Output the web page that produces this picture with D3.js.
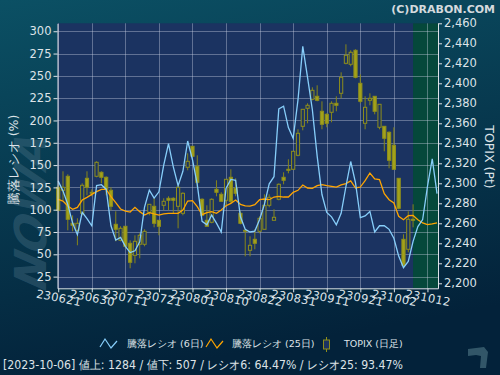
<!DOCTYPE html>
<html>
<head>
<meta charset="utf-8">
<script src="https://cdn.jsdelivr.net/npm/d3@7"></script>
<style>
  body { margin: 0; background: #04263a; }
  svg { display: block; }
  text { font-family: "DejaVu Sans", sans-serif; }
</style>
</head>
<body>
<svg id="chart" width="500" height="375"></svg>
<script>
// trading days (yymmdd), ratio lines run a few days past the last candle
var dates = ["230621","230622","230623","230626","230627","230628","230629","230630",
  "230703","230704","230705","230706","230707","230710","230711","230712","230713","230714",
  "230718","230719","230720","230721","230724","230725","230726","230727","230728","230731",
  "230801","230802","230803","230804","230807","230808","230809","230810","230814","230815",
  "230816","230817","230818","230821","230822","230823","230824","230825","230828","230829",
  "230830","230831","230901","230904","230905","230906","230907","230908","230911","230912",
  "230913","230914","230915","230919","230920","230921","230922","230925","230926","230927",
  "230928","230929","231002","231003","231004","231005","231006","231010","231011","231012",
  "231013","231016"];

// 騰落レシオ 6日 / 25日 (%)
var ratio6 = [132,121,106,85,72,97,90,82,127,128,123,82,66,69,59,52,54,64,103,122,
  113,120,150,174,148,127,143,177,156,128,87,83,94,85,75,124,134,133,92,78,
  75,76,89,106,129,137,213,216,192,180,223,283,248,212,160,117,97,92,83,96,
  126,154,130,91,93,98,75,82,82,78,68,48,35,42,64.47,81,89,126,157,118];
var ratio25 = [111.6,109.7,104,100.4,102.6,110.8,113.8,117.2,120.2,122.8,122.8,114.6,107.9,100.8,98.5,97.4,102.6,97.8,94,96.7,
  95.2,94,95.2,95.9,95.9,95.9,99.6,109.7,110.1,103.4,94.4,96.6,97.8,95.9,99.6,104.5,107.1,110.8,106,104.3,
  104.1,105.6,111.2,112,111.2,114.2,115,114.2,114.2,119.5,121.7,127.7,124.3,123.9,126.9,128.1,126.9,126.2,125.4,127.7,
  129.2,132.2,124.3,125.4,132.5,141.1,134.4,133.7,118,111.2,107.5,92.6,88.8,93.3,93.47,88.8,85.1,83.2,84,85.1];

// TOPIX daily candles (Pt)
var topixOpen  = [2296,2293,2307,2260,2253,2270,2305,2291,2307,2311,2306,2293,2259,2243,2257,2240,2228,2239,2239,2271,
  2277,2263,2278,2285,2285,2277,2270,2316,2337,2317,2284,2263,2261,2294,2289,2283,2306,2295,2270,2253,
  2233,2244,2252,2254,2278,2263,2284,2306,2314,2314,2328,2357,2375,2384,2387,2372,2369,2371,2380,2390,
  2420,2419,2433,2400,2360,2383,2387,2356,2357,2351,2338,2305,2244,2234,2264];
var topixHigh  = [2298,2312,2309,2268,2265,2300,2312,2294,2322,2312,2307,2296,2272,2257,2257,2243,2248,2250,2254,2279,
  2285,2263,2285,2287,2286,2298,2291,2330,2337,2328,2285,2278,2285,2303,2291,2304,2314,2305,2272,2253,
  2247,2254,2267,2289,2289,2274,2300,2311,2324,2332,2354,2374,2380,2396,2398,2382,2370,2382,2387,2411,
  2439,2433,2434,2409,2387,2390,2387,2379,2357,2352,2356,2305,2249,2272,2279];
var topixLow   = [2272,2283,2253,2252,2238,2268,2288,2287,2306,2300,2288,2273,2242,2242,2235,2215,2220,2225,2237,2268,
  2256,2248,2273,2273,2270,2255,2268,2313,2327,2296,2267,2257,2260,2287,2282,2277,2280,2287,2259,2227,
  2227,2234,2250,2254,2276,2263,2283,2299,2310,2314,2327,2353,2360,2383,2382,2354,2356,2361,2372,2385,
  2419,2417,2405,2380,2354,2378,2369,2354,2332,2315,2314,2274,2217,2231,2256];
var topixClose = [2273,2296,2264,2258,2260,2298,2296,2290,2321,2306,2294,2277,2254,2255,2237,2221,2242,2248,2252,2279,
  2260,2257,2282,2283,2283,2296,2290,2322,2327,2301,2268,2257,2284,2291,2282,2304,2282,2290,2260,2252,
  2238,2240,2265,2278,2286,2266,2299,2303,2313,2332,2350,2374,2378,2393,2383,2359,2360,2380,2378,2406,
  2428,2431,2406,2382,2376,2385,2372,2379,2345,2323,2314,2275,2218,2264,2263];

var leftTicks = [25,50,75,100,125,150,175,200,225,250,275,300];
var rightTicks = [2200,2220,2240,2260,2280,2300,2320,2340,2360,2380,2400,2420,2440,2460];
var statusText = "[2023-10-06]  値上: 1284 / 値下: 507 / レシオ6: 64.47% / レシオ25: 93.47%";

var svg = d3.select("#chart");
var W = 500, H = 375;
var plot = { left: 57.5, right: 438, top: 23.3, bottom: 288.3 };

// background gradient
var defs = svg.append("defs");
var bg = defs.append("linearGradient").attr("id", "bg")
  .attr("x1", 0).attr("y1", 0).attr("x2", 0.25).attr("y2", 1);
bg.append("stop").attr("offset", "0%").attr("stop-color", "#0b5064");
bg.append("stop").attr("offset", "100%").attr("stop-color", "#03223a");
svg.append("rect").attr("width", W).attr("height", H).attr("fill", "url(#bg)");

// watermark on the left
svg.append("text")
  .attr("transform", "translate(46,292) rotate(-90) skewX(-14)")
  .attr("font-size", 44).attr("font-weight", "bold").attr("font-style", "italic")
  .attr("fill", "#4d7488").attr("fill-opacity", 0.4)
  .text("NOWA");

// scales
var x = d3.scaleLinear().domain([-0.15, 79.2]).range([plot.left, plot.right]);
var yL = d3.scaleLinear().domain([11.9, 308.9]).range([plot.bottom, plot.top]);
var yR = d3.scaleLinear().domain([2195, 2460]).range([plot.bottom, plot.top]);

// plot area
svg.append("rect")
  .attr("x", plot.left).attr("y", plot.top)
  .attr("width", plot.right - plot.left).attr("height", plot.bottom - plot.top)
  .attr("fill", "#1b3361");
var lastIdx = topixClose.length - 1;
svg.append("rect")
  .attr("x", x(lastIdx)).attr("y", plot.top)
  .attr("width", plot.right - x(lastIdx)).attr("height", plot.bottom - plot.top)
  .attr("fill", "#05483b");

// grid
var xTickIdx = d3.range(0, dates.length, 7);
var grid = svg.append("g").attr("stroke", "#c8d0e0").attr("stroke-opacity", 0.4).attr("stroke-width", 1);
grid.selectAll("line.h").data(leftTicks).enter().append("line")
  .attr("x1", plot.left).attr("x2", plot.right)
  .attr("y1", d => Math.round(yL(d)) + 0.5).attr("y2", d => Math.round(yL(d)) + 0.5);
grid.selectAll("line.v").data(xTickIdx).enter().append("line")
  .attr("y1", plot.top).attr("y2", plot.bottom)
  .attr("x1", d => Math.round(x(d)) + 0.5).attr("x2", d => Math.round(x(d)) + 0.5);

// candles
var candles = svg.append("g");
var bw = 3.2;
topixClose.forEach(function (c, i) {
  var o = topixOpen[i], up = c >= o;
  var cx = x(i);
  candles.append("line")
    .attr("x1", cx).attr("x2", cx)
    .attr("y1", yR(topixHigh[i])).attr("y2", yR(topixLow[i]))
    .attr("stroke", "#86861a").attr("stroke-width", 1);
  candles.append("rect")
    .attr("x", cx - bw / 2).attr("width", bw)
    .attr("y", yR(Math.max(o, c)))
    .attr("height", Math.max(1, Math.abs(yR(o) - yR(c))))
    .attr("fill", up ? "#1b3361" : "#a3a21a")
    .attr("stroke", "#8e8e1c").attr("stroke-width", 1);
});

// ratio lines
var line = d3.line().x((d, i) => x(i)).y(d => yL(d));
svg.append("path").datum(ratio25).attr("d", line)
  .attr("fill", "none").attr("stroke", "#ffa500").attr("stroke-width", 1.3);
svg.append("path").datum(ratio6).attr("d", line)
  .attr("fill", "none").attr("stroke", "#87cefa").attr("stroke-width", 1.3);

// axes
var axisColor = "#dde3e8";
var gL = svg.append("g").attr("transform", "translate(" + plot.left + ",0)")
  .call(d3.axisLeft(yL).tickValues(leftTicks).tickSize(4).tickPadding(2).tickSizeOuter(0));
var gR = svg.append("g").attr("transform", "translate(" + plot.right + ",0)")
  .call(d3.axisRight(yR).tickValues(rightTicks).tickSize(4).tickPadding(2).tickSizeOuter(0)
    .tickFormat(d3.format(",")));
var gX = svg.append("g").attr("transform", "translate(0," + plot.bottom + ")")
  .call(d3.axisBottom(x).tickValues(xTickIdx).tickSize(4).tickSizeOuter(0)
    .tickFormat(i => dates[i]));
[gL, gR, gX].forEach(function (g) {
  g.selectAll("path.domain").attr("stroke", axisColor);
  g.selectAll(".tick line").attr("stroke", axisColor);
  g.selectAll("text").attr("fill", axisColor).attr("font-size", 11.5)
    .attr("font-family", "DejaVu Sans, sans-serif");
});
gX.selectAll(".tick text")
  .attr("y", 0).attr("dy", 0)
  .attr("transform", "translate(0,10) rotate(11)")
  .attr("text-anchor", "middle").attr("dominant-baseline", "middle")
  .attr("letter-spacing", 0.3);

// axis titles
svg.append("text")
  .attr("transform", "translate(18,160) rotate(-90)")
  .attr("text-anchor", "middle").attr("fill", axisColor)
  .attr("font-size", 12.5).attr("font-family", "Noto Sans CJK JP, sans-serif")
  .text("騰落レシオ (%)");
svg.append("text")
  .attr("transform", "translate(485,157) rotate(90)")
  .attr("text-anchor", "middle").attr("fill", axisColor)
  .attr("font-size", 12.5)
  .text("TOPIX (Pt)");

// copyright
svg.append("text")
  .attr("x", 495).attr("y", 13).attr("text-anchor", "end")
  .attr("font-size", 11).attr("font-weight", "bold").attr("fill", "#d4dade")
  .text("(C)DRABON.COM");

// legend
var lg = svg.append("g").attr("font-family", "Liberation Sans, Noto Sans CJK JP, sans-serif")
  .attr("font-size", 9.5).attr("fill", axisColor);
var zig = d3.line()([[0, 8], [5, 0], [11, 9], [17, 2]]);
lg.append("path").attr("d", zig).attr("transform", "translate(100,339)")
  .attr("fill", "none").attr("stroke", "#87cefa").attr("stroke-width", 1.2);
lg.append("text").attr("x", 127).attr("y", 347).text("騰落レシオ (6日)");
lg.append("path").attr("d", zig).attr("transform", "translate(206,339)")
  .attr("fill", "none").attr("stroke", "#ffa500").attr("stroke-width", 1.2);
lg.append("text").attr("x", 232).attr("y", 347).text("騰落レシオ (25日)");
lg.append("line").attr("x1", 326.5).attr("x2", 326.5).attr("y1", 337).attr("y2", 352)
  .attr("stroke", "#8e8e1c");
lg.append("rect").attr("x", 323.5).attr("y", 340).attr("width", 6).attr("height", 9)
  .attr("fill", "#1b3361").attr("stroke", "#8e8e1c");
lg.append("text").attr("x", 344).attr("y", 347).text("TOPIX (日足)");

// status line
svg.append("text")
  .attr("x", 3).attr("y", 369)
  .attr("textLength", 400).attr("lengthAdjust", "spacingAndGlyphs")
  .attr("font-family", "Liberation Sans, Noto Sans CJK JP, sans-serif")
  .attr("font-size", 12).attr("fill", "#dde3e8")
  .text(statusText);

// small logo mark bottom right
svg.append("path")
  .attr("d", "M468,349 L484,347 L488,352 L486,368 L480,368 L481,356 L476,355 L468,356 Z")
  .attr("fill", "#3f6474").attr("fill-opacity", 0.8);
</script>
</body>
</html>
